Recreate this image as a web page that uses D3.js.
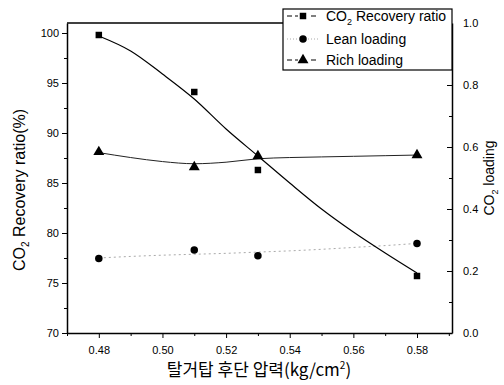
<!DOCTYPE html>
<html>
<head>
<meta charset="utf-8">
<script src="https://cdn.jsdelivr.net/npm/d3@7"></script>
<style>
    body { margin: 0; background: #fff; }
    #chart { width: 504px; height: 385px; }
    text { font-family: "Liberation Sans", Arial, sans-serif; fill: #000; }
</style>
</head>
<body>
<div id="chart"></div>
<script>
// measured points
var pressure = [0.48, 0.51, 0.53, 0.58];
var recoveryRatio = [99.8, 94.1, 86.3, 75.7];
var leanLoading = [0.240, 0.268, 0.249, 0.289];
var richLoading = [0.584, 0.535, 0.571, 0.574];

// fitted curves
var fitPressure = [0.48, 0.49, 0.50, 0.51, 0.52, 0.53, 0.54, 0.55, 0.56, 0.57, 0.58];
var recoveryFit = [99.7, 98.2, 95.9, 93.4, 90.4, 87.7, 85.0, 82.4, 80.1, 78.0, 76.0];
var leanFit = [0.242, 0.247, 0.251, 0.254, 0.257, 0.261, 0.265, 0.270, 0.276, 0.282, 0.289];
var richFit = [0.582, 0.566, 0.553, 0.546, 0.551, 0.562, 0.566, 0.568, 0.570, 0.572, 0.574];

// ticks
var xTicks = [0.48, 0.50, 0.52, 0.54, 0.56, 0.58];
var xMinorTicks = [0.47, 0.49, 0.51, 0.53, 0.55, 0.57, 0.59];
var leftTicks = [70, 75, 80, 85, 90, 95, 100];
var leftMinorTicks = [72.5, 77.5, 82.5, 87.5, 92.5, 97.5];
var rightTicks = [0.0, 0.2, 0.4, 0.6, 0.8, 1.0];
var rightMinorTicks = [0.1, 0.3, 0.5, 0.7, 0.9];

var legendNames = ["Recovery ratio", "Lean loading", "Rich loading"];

function draw() {
    var width = 504;
    var height = 385;
    var left = 67, right = 452, top = 23, bottom = 333;

    var svg = d3.select("#chart").append("svg")
        .attr("width", width)
        .attr("height", height);

    var xScale = d3.scaleLinear().domain([0.47, 0.591]).range([left, right]);
    var yLeft = d3.scaleLinear().domain([70, 101]).range([bottom, top]);
    var yRight = d3.scaleLinear().domain([0, 1]).range([bottom, top]);

    // frame
    svg.append("line").attr("x1", left).attr("x2", right).attr("y1", top).attr("y2", top)
        .attr("stroke", "#000").attr("stroke-width", 1.5);

    // x axis
    svg.append("g")
        .attr("transform", "translate(0," + bottom + ")")
        .call(d3.axisBottom(xScale).tickValues(xTicks).tickFormat(d3.format(".2f"))
            .tickSizeInner(5).tickSizeOuter(0).tickPadding(8))
        .call(function (g) {
            g.selectAll("text").style("font-size", "11px");
            g.select(".domain").attr("stroke-width", 1.5);
        });
    svg.append("g")
        .attr("transform", "translate(0," + bottom + ")")
        .call(d3.axisBottom(xScale).tickValues(xMinorTicks).tickFormat("").tickSizeInner(3).tickSizeOuter(0))
        .call(function (g) { g.select(".domain").remove(); });

    // left axis
    svg.append("g")
        .attr("transform", "translate(" + left + ",0)")
        .call(d3.axisLeft(yLeft).tickValues(leftTicks).tickSizeInner(5).tickSizeOuter(0).tickPadding(3))
        .call(function (g) {
            g.selectAll("text").style("font-size", "11px");
            g.select(".domain").attr("stroke-width", 1.5);
        });
    svg.append("g")
        .attr("transform", "translate(" + left + ",0)")
        .call(d3.axisLeft(yLeft).tickValues(leftMinorTicks).tickFormat("").tickSizeInner(3).tickSizeOuter(0))
        .call(function (g) { g.select(".domain").remove(); });

    // right axis, ticks point inward
    svg.append("g")
        .attr("transform", "translate(" + right + ",0)")
        .call(d3.axisRight(yRight).tickValues(rightTicks).tickFormat(d3.format(".1f"))
            .tickSizeInner(-5).tickSizeOuter(0).tickPadding(11))
        .call(function (g) {
            g.selectAll("text").style("font-size", "11px");
            g.select(".domain").attr("stroke-width", 1.5);
        });
    svg.append("g")
        .attr("transform", "translate(" + right + ",0)")
        .call(d3.axisRight(yRight).tickValues(rightMinorTicks).tickFormat("").tickSizeInner(-3).tickSizeOuter(0))
        .call(function (g) { g.select(".domain").remove(); });

    // axis titles
    var leftTitle = svg.append("text")
        .attr("transform", "translate(25,190) rotate(-90)")
        .style("text-anchor", "middle")
        .style("font-size", "16px");
    leftTitle.append("tspan").text("CO");
    leftTitle.append("tspan").attr("dy", 4).style("font-size", "10px").text("2");
    leftTitle.append("tspan").attr("dy", -4).text(" Recovery ratio(%)");

    var rightTitle = svg.append("text")
        .attr("transform", "translate(494," + ((top + bottom) / 2) + ") rotate(-90)")
        .style("text-anchor", "middle")
        .style("font-size", "14px");
    rightTitle.append("tspan").text("CO");
    rightTitle.append("tspan").attr("dy", 4).style("font-size", "9px").text("2");
    rightTitle.append("tspan").attr("dy", -4).text(" loading");

    var xTitle = svg.append("text")
        .attr("x", 259)
        .attr("y", 376)
        .style("text-anchor", "middle")
        .style("font-family", "'Noto Sans CJK KR', sans-serif")
        .style("font-size", "17px");
    xTitle.append("tspan").text("탈거탑 후단 압력(kg/cm");
    xTitle.append("tspan").attr("dy", -7).style("font-size", "10px").text("2");
    xTitle.append("tspan").attr("dy", 7).text(")");

    // lines
    function fitLine(yScale) {
        return d3.line()
            .x(function (d) { return xScale(d.x); })
            .y(function (d) { return yScale(d.y); })
            .curve(d3.curveMonotoneX);
    }
    function zip(xs, ys) {
        return xs.map(function (x, i) { return { x: x, y: ys[i] }; });
    }

    svg.append("path")
        .datum(zip(fitPressure, leanFit))
        .attr("d", fitLine(yRight))
        .attr("fill", "none")
        .attr("stroke", "#aaa")
        .attr("stroke-width", 1)
        .attr("stroke-dasharray", "2,3");
    svg.append("path")
        .datum(zip(fitPressure, richFit))
        .attr("d", fitLine(yRight))
        .attr("fill", "none")
        .attr("stroke", "#222")
        .attr("stroke-width", 1);
    svg.append("path")
        .datum(zip(fitPressure, recoveryFit))
        .attr("d", fitLine(yLeft))
        .attr("fill", "none")
        .attr("stroke", "#000")
        .attr("stroke-width", 1.2);

    // markers
    var squareSym = d3.symbol().type(d3.symbolSquare).size(42);
    var circleSym = d3.symbol().type(d3.symbolCircle).size(44);
    var triangleSym = d3.symbol().type(d3.symbolTriangle).size(52);

    svg.selectAll(".sq")
        .data(zip(pressure, recoveryRatio))
        .enter().append("path")
        .attr("class", "sq")
        .attr("d", squareSym)
        .attr("transform", function (d) { return "translate(" + xScale(d.x) + "," + yLeft(d.y) + ")"; });
    svg.selectAll(".ci")
        .data(zip(pressure, leanLoading))
        .enter().append("path")
        .attr("class", "ci")
        .attr("d", circleSym)
        .attr("transform", function (d) { return "translate(" + xScale(d.x) + "," + yRight(d.y) + ")"; });
    svg.selectAll(".tr")
        .data(zip(pressure, richLoading))
        .enter().append("path")
        .attr("class", "tr")
        .attr("d", triangleSym)
        .attr("transform", function (d) { return "translate(" + xScale(d.x) + "," + yRight(d.y) + ")"; });

    // legend
    var legend = svg.append("g");
    legend.append("rect")
        .attr("x", 283).attr("y", 9).attr("width", 169).attr("height", 61)
        .attr("fill", "#fff").attr("stroke", "#000").attr("stroke-width", 1.2);

    var rows = [
        { y: 16, sym: squareSym, dash: "5,3", color: "#000" },
        { y: 39, sym: circleSym, dash: "1,2", color: "#aaa" },
        { y: 60, sym: triangleSym, dash: "5,3", color: "#000" }
    ];
    rows.forEach(function (r, i) {
        legend.append("line")
            .attr("x1", 287).attr("x2", 319).attr("y1", r.y).attr("y2", r.y)
            .attr("stroke", r.color).attr("stroke-width", 1)
            .attr("stroke-dasharray", r.dash);
        legend.append("rect")
            .attr("x", 298).attr("y", r.y - 4).attr("width", 10).attr("height", 8)
            .attr("fill", "#fff");
        legend.append("path")
            .attr("d", r.sym)
            .attr("transform", "translate(303," + r.y + ")");
        var t = legend.append("text")
            .attr("x", 326).attr("y", r.y + 5)
            .style("font-size", "14px");
        if (i === 0) {
            t.append("tspan").text("CO");
            t.append("tspan").attr("dy", 4).style("font-size", "9px").text("2");
            t.append("tspan").attr("dy", -4).text(" " + legendNames[i]);
        } else {
            t.text(legendNames[i]);
        }
    });
}

draw();
</script>
</body>
</html>
